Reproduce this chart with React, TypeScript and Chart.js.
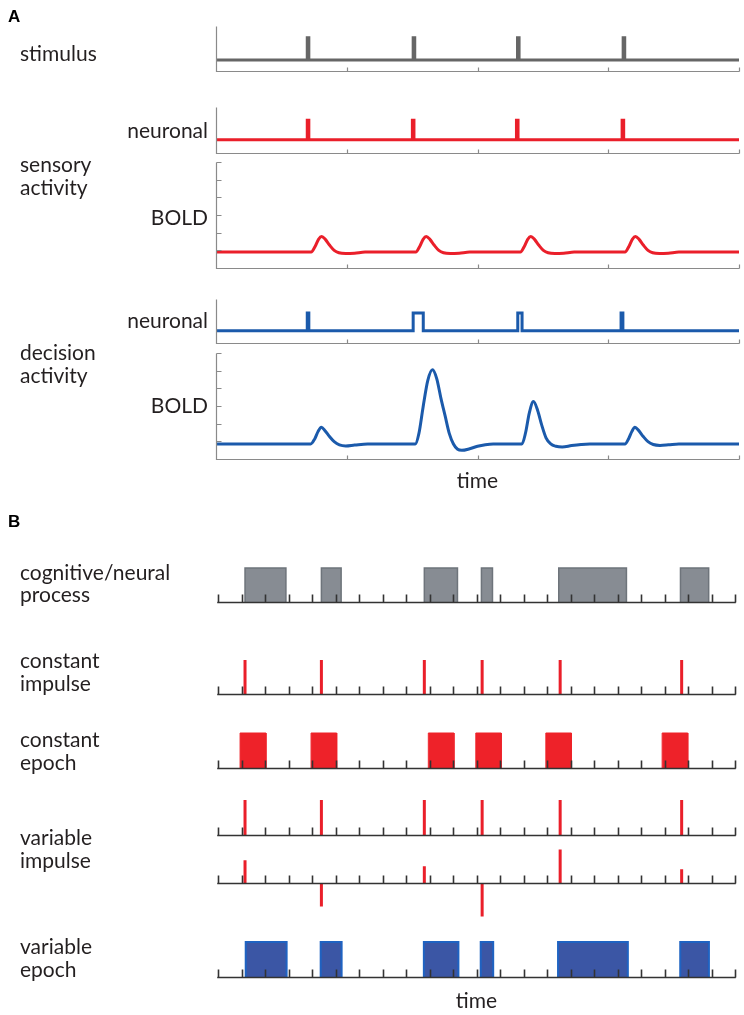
import React, { useEffect, useRef } from 'react';
import { Chart, registerables } from 'chart.js';

Chart.register(...registerables);

// ---------------- Panel A data (time axis 0..100) ----------------
const A_TIME_TICKS = [0, 25, 50, 75, 100];
const BOLD_Y_TICKS = [0, 1, 2, 3, 4, 5, 6];

const STIM_ONSETS = [17.45, 37.7, 57.65, 77.85];
const STIM_WIDTHS = [0.3, 0.3, 0.3, 0.3];
const STIM_BASE = 0.245;
const STIM_PEAK = 0.74;

const SENS_NEURO_ONSETS = [17.45, 37.55, 57.45, 77.65];
const SENS_NEURO_WIDTHS = [0.3, 0.3, 0.3, 0.3];
const SENS_NEURO_BASE = 0.29;
const SENS_NEURO_PEAK = 0.71;

const SENS_BOLD_X = [
  0, 18.2, 19.0, 19.6, 20.2, 20.9, 21.7, 22.6, 23.5, 24.8, 26.5, 28.5,
  38.2, 39.0, 39.6, 40.2, 40.9, 41.7, 42.6, 43.5, 44.8, 46.5, 48.5,
  58.2, 59.0, 59.6, 60.2, 60.9, 61.7, 62.6, 63.5, 64.8, 66.5, 68.5,
  78.2, 79.0, 79.6, 80.2, 80.9, 81.7, 82.6, 83.5, 84.8, 86.5, 88.5, 100,
];
const SENS_BOLD_Y = [
  0.91, 0.91, 1.25, 1.62, 1.78, 1.62, 1.3, 1.0, 0.86, 0.82, 0.84, 0.9,
  0.91, 1.25, 1.62, 1.78, 1.62, 1.3, 1.0, 0.86, 0.82, 0.84, 0.9,
  0.91, 1.25, 1.62, 1.78, 1.62, 1.3, 1.0, 0.86, 0.82, 0.84, 0.9,
  0.91, 1.25, 1.62, 1.78, 1.62, 1.3, 1.0, 0.86, 0.82, 0.84, 0.9, 0.91,
];

const DEC_NEURO_ONSETS = [17.45, 37.7, 57.7, 77.45];
const DEC_NEURO_WIDTHS = [0.3, 1.93, 0.82, 0.35];
const DEC_NEURO_BASE = 0.28;
const DEC_NEURO_PEAK = 0.68;

const DEC_BOLD_X = [
  0, 18.1, 18.9, 19.5, 20.15, 20.8, 21.7, 22.6, 23.6, 24.8, 26.5, 29.0,
  38.1, 38.8, 39.6, 40.5, 41.4, 42.2, 43.0, 43.8, 44.6, 45.4, 46.2, 47.0, 48.5, 50.0, 51.5, 53.0,
  58.5, 59.2, 59.9, 60.7, 61.5, 62.3, 63.1, 64.0, 65.0, 66.2, 68.0, 69.8, 71.5,
  78.2, 78.9, 79.5, 80.1, 80.8, 81.7, 82.6, 83.6, 84.9, 86.5, 88.5, 100,
];
const DEC_BOLD_Y = [
  0.85, 0.85, 1.15, 1.55, 1.8, 1.62, 1.27, 0.98, 0.8, 0.74, 0.79, 0.85,
  0.85, 1.45, 2.95, 4.45, 5.05, 4.55, 3.45, 2.45, 1.45, 0.85, 0.55, 0.49, 0.58, 0.72, 0.81, 0.85,
  0.85, 1.5, 2.6, 3.25, 2.75, 1.9, 1.2, 0.85, 0.72, 0.68, 0.76, 0.82, 0.85,
  0.85, 1.15, 1.55, 1.8, 1.62, 1.27, 0.98, 0.82, 0.77, 0.8, 0.85, 0.85,
];

// ---------------- Panel B data (time axis in tick units 0..22) ----------------
const B_TIME_TICKS = [0, 1, 2, 3, 4, 5, 6, 7, 8, 9, 10, 11, 12, 13, 14, 15, 16, 17, 18, 19, 20, 21, 22];

const PROCESS_START = [1.15, 4.4, 8.78, 11.21, 14.5, 19.68];
const PROCESS_END = [2.89, 5.24, 10.19, 11.68, 17.38, 20.88];

const CONST_IMPULSE_T = [1.15, 4.4, 8.78, 11.24, 14.56, 19.73];
const CONST_IMPULSE_H = [1, 1, 1, 1, 1, 1];

const CONST_EPOCH_START = [0.94, 3.96, 8.95, 10.97, 13.95, 18.9];
const CONST_EPOCH_END = [2.04, 5.05, 10.04, 12.05, 15.04, 19.99];

const VAR_IMPULSE_T = [1.15, 4.4, 8.78, 11.24, 14.56, 19.73];
const VAR_IMPULSE_H1 = [1, 1, 1, 1, 1, 1];
const VAR_IMPULSE_H2 = [0.65, -0.67, 0.48, -0.96, 0.96, 0.39];

const VAR_EPOCH_START = [1.18, 4.37, 8.76, 11.18, 14.47, 19.67];
const VAR_EPOCH_END = [2.92, 5.26, 10.23, 11.71, 17.44, 20.89];

// ---------------- styles ----------------
const GRAY_LINE = '#666666';
const RED = '#ea1f2a';
const BLUE = '#1b5aab';
const PROC_FILL = '#878c93';
const PROC_EDGE = '#6e747b';
const EPOCH_RED = '#ee2229';
const VEPOCH_FILL = '#3b56a5';
const VEPOCH_EDGE = '#1f63c2';
const TEXT = '#231f20';
const FONT = 'Lato, "Open Sans", sans-serif';
const PAD = 8;

type Pt = { x: number; y: number | null };

function stepSeries(onsets: number[], widths: number[], base: number, peak: number, xMax: number): Pt[] {
  const pts: Pt[] = [{ x: 0, y: base }];
  onsets.forEach((t, i) => {
    pts.push({ x: t, y: base }, { x: t, y: peak }, { x: t + widths[i], y: peak }, { x: t + widths[i], y: base });
  });
  pts.push({ x: xMax, y: base });
  return pts;
}

function xySeries(xs: number[], ys: number[]): Pt[] {
  return xs.map((x, i) => ({ x, y: ys[i] }));
}

function impulseSeries(ts: number[], hs: number[]): Pt[] {
  const pts: Pt[] = [];
  ts.forEach((t, i) => {
    pts.push({ x: t, y: 0 }, { x: t, y: hs[i] }, { x: t, y: null });
  });
  return pts;
}

function boxDatasets(starts: number[], ends: number[], fill: string, edge: string, edgeWidth: number) {
  return starts.map((s, i) => ({
    data: [
      { x: s, y: 0 },
      { x: s, y: 1 },
      { x: ends[i], y: 1 },
      { x: ends[i], y: 0 },
    ],
    borderColor: edge,
    borderWidth: edgeWidth,
    backgroundColor: fill,
    fill: 'origin',
    tension: 0,
    pointRadius: 0,
    clip: PAD,
  }));
}

function lineDataset(data: Pt[], color: string, width: number, smooth: boolean) {
  return {
    data,
    borderColor: color,
    borderWidth: width,
    fill: false,
    tension: 0,
    cubicInterpolationMode: smooth ? 'monotone' : 'default',
    pointRadius: 0,
    borderCapStyle: 'butt',
    borderJoinStyle: 'miter',
    spanGaps: false,
    clip: PAD,
  };
}

type PlotSpec = {
  key: string;
  left: number;
  top: number;
  width: number;
  height: number;
  xMin: number;
  xMax: number;
  yMin: number;
  yMax: number;
  style: 'A' | 'B';
  xTicks: number[];
  yTicks?: number[];
  datasets: any[];
};

function axesPlugin(p: PlotSpec) {
  return {
    id: 'figAxes',
    afterDatasetsDraw(chart: any) {
      const ctx = chart.ctx;
      const xs = chart.scales.x;
      const ys = chart.scales.y;
      ctx.save();
      if (p.style === 'A') {
        const x0 = Math.round(xs.getPixelForValue(p.xMin)) + 0.5;
        const x1 = Math.round(xs.getPixelForValue(p.xMax)) + 0.5;
        const y0 = Math.round(ys.getPixelForValue(p.yMin)) + 0.5;
        const y1 = Math.round(ys.getPixelForValue(p.yMax)) + 0.5;
        ctx.strokeStyle = '#8a8a8a';
        ctx.lineWidth = 1.2;
        ctx.beginPath();
        ctx.moveTo(x0, y1);
        ctx.lineTo(x0, y0);
        ctx.lineTo(x1, y0);
        for (const t of p.xTicks) {
          const x = Math.round(xs.getPixelForValue(t)) + 0.5;
          ctx.moveTo(x, y0);
          ctx.lineTo(x, y0 - 4);
        }
        for (const t of p.yTicks || []) {
          const y = Math.round(ys.getPixelForValue(t)) + 0.5;
          ctx.moveTo(x0, y);
          ctx.lineTo(x0 + 5, y);
        }
        ctx.stroke();
      } else {
        const x0 = xs.getPixelForValue(p.xMin);
        const x1 = xs.getPixelForValue(p.xMax);
        const yb = Math.round(ys.getPixelForValue(0)) + 0.5;
        ctx.strokeStyle = '#333333';
        ctx.lineWidth = 1.6;
        ctx.beginPath();
        ctx.moveTo(x0 - 0.8, yb);
        ctx.lineTo(x1 + 0.8, yb);
        for (const t of p.xTicks) {
          const x = Math.round(xs.getPixelForValue(t)) + 0.5;
          ctx.moveTo(x, yb);
          ctx.lineTo(x, yb - 8);
        }
        ctx.stroke();
      }
      ctx.restore();
    },
  };
}

function Plot({ spec }: { spec: PlotSpec }) {
  const ref = useRef<HTMLCanvasElement | null>(null);
  useEffect(() => {
    if (!ref.current) return;
    const chart = new Chart(ref.current, {
      type: 'line',
      data: { datasets: spec.datasets },
      options: {
        animation: false,
        responsive: false,
        maintainAspectRatio: false,
        devicePixelRatio: 1,
        layout: { padding: PAD },
        events: [],
        plugins: { legend: { display: false }, tooltip: { enabled: false } },
        scales: {
          x: { type: 'linear', min: spec.xMin, max: spec.xMax, display: false },
          y: { type: 'linear', min: spec.yMin, max: spec.yMax, display: false },
        },
      },
      plugins: [axesPlugin(spec)],
    } as any);
    return () => chart.destroy();
  }, [spec]);
  const w = spec.width + 2 * PAD;
  const h = spec.height + 2 * PAD;
  return (
    <canvas
      ref={ref}
      width={w}
      height={h}
      style={{ position: 'absolute', left: spec.left - PAD, top: spec.top - PAD, width: w, height: h }}
    />
  );
}

const A_LEFT = 216;
const A_WIDTH = 523;
const B_LEFT = 218;
const B_WIDTH = 517;

const PLOTS: PlotSpec[] = [
  {
    key: 'stim', left: A_LEFT, top: 26, width: A_WIDTH, height: 45,
    xMin: 0, xMax: 100, yMin: 0, yMax: 1, style: 'A', xTicks: A_TIME_TICKS,
    datasets: [lineDataset(stepSeries(STIM_ONSETS, STIM_WIDTHS, STIM_BASE, STIM_PEAK, 100), GRAY_LINE, 3, false)],
  },
  {
    key: 'sensNeuro', left: A_LEFT, top: 107, width: A_WIDTH, height: 46,
    xMin: 0, xMax: 100, yMin: 0, yMax: 1, style: 'A', xTicks: A_TIME_TICKS,
    datasets: [lineDataset(stepSeries(SENS_NEURO_ONSETS, SENS_NEURO_WIDTHS, SENS_NEURO_BASE, SENS_NEURO_PEAK, 100), RED, 3, false)],
  },
  {
    key: 'sensBold', left: A_LEFT, top: 162, width: A_WIDTH, height: 106,
    xMin: 0, xMax: 100, yMin: 0, yMax: 6, style: 'A', xTicks: A_TIME_TICKS, yTicks: BOLD_Y_TICKS,
    datasets: [lineDataset(xySeries(SENS_BOLD_X, SENS_BOLD_Y), RED, 3, true)],
  },
  {
    key: 'decNeuro', left: A_LEFT, top: 299, width: A_WIDTH, height: 44,
    xMin: 0, xMax: 100, yMin: 0, yMax: 1, style: 'A', xTicks: A_TIME_TICKS,
    datasets: [lineDataset(stepSeries(DEC_NEURO_ONSETS, DEC_NEURO_WIDTHS, DEC_NEURO_BASE, DEC_NEURO_PEAK, 100), BLUE, 3, false)],
  },
  {
    key: 'decBold', left: A_LEFT, top: 353, width: A_WIDTH, height: 106,
    xMin: 0, xMax: 100, yMin: 0, yMax: 6, style: 'A', xTicks: A_TIME_TICKS, yTicks: BOLD_Y_TICKS,
    datasets: [lineDataset(xySeries(DEC_BOLD_X, DEC_BOLD_Y), BLUE, 3, true)],
  },
  {
    key: 'process', left: B_LEFT, top: 567.5, width: B_WIDTH, height: 34,
    xMin: 0, xMax: 22, yMin: 0, yMax: 1, style: 'B', xTicks: B_TIME_TICKS,
    datasets: boxDatasets(PROCESS_START, PROCESS_END, PROC_FILL, PROC_EDGE, 1.5),
  },
  {
    key: 'constImp', left: B_LEFT, top: 660, width: B_WIDTH, height: 34,
    xMin: 0, xMax: 22, yMin: 0, yMax: 1, style: 'B', xTicks: B_TIME_TICKS,
    datasets: [lineDataset(impulseSeries(CONST_IMPULSE_T, CONST_IMPULSE_H), RED, 3, false)],
  },
  {
    key: 'constEpoch', left: B_LEFT, top: 733, width: B_WIDTH, height: 35,
    xMin: 0, xMax: 22, yMin: 0, yMax: 1, style: 'B', xTicks: B_TIME_TICKS,
    datasets: boxDatasets(CONST_EPOCH_START, CONST_EPOCH_END, EPOCH_RED, EPOCH_RED, 1),
  },
  {
    key: 'varImp1', left: B_LEFT, top: 800, width: B_WIDTH, height: 35,
    xMin: 0, xMax: 22, yMin: 0, yMax: 1, style: 'B', xTicks: B_TIME_TICKS,
    datasets: [lineDataset(impulseSeries(VAR_IMPULSE_T, VAR_IMPULSE_H1), RED, 3, false)],
  },
  {
    key: 'varImp2', left: B_LEFT, top: 848, width: B_WIDTH, height: 70,
    xMin: 0, xMax: 22, yMin: -1, yMax: 1, style: 'B', xTicks: B_TIME_TICKS,
    datasets: [lineDataset(impulseSeries(VAR_IMPULSE_T, VAR_IMPULSE_H2), RED, 3, false)],
  },
  {
    key: 'varEpoch', left: B_LEFT, top: 942, width: B_WIDTH, height: 35,
    xMin: 0, xMax: 22, yMin: 0, yMax: 1, style: 'B', xTicks: B_TIME_TICKS,
    datasets: boxDatasets(VAR_EPOCH_START, VAR_EPOCH_END, VEPOCH_FILL, VEPOCH_EDGE, 2),
  },
];

type Label = { text: string; x: number; y: number; anchor?: 'start' | 'end' | 'middle'; bold?: boolean };

const LABELS: Label[] = [
  { text: 'A', x: 8, y: 22, bold: true },
  { text: 'stimulus', x: 20, y: 61 },
  { text: 'neuronal', x: 208, y: 138, anchor: 'end' },
  { text: 'sensory', x: 20, y: 172 },
  { text: 'activity', x: 20, y: 195 },
  { text: 'BOLD', x: 208, y: 225, anchor: 'end' },
  { text: 'neuronal', x: 208, y: 328, anchor: 'end' },
  { text: 'decision', x: 20, y: 360 },
  { text: 'activity', x: 20, y: 383 },
  { text: 'BOLD', x: 208, y: 413, anchor: 'end' },
  { text: 'time', x: 477.5, y: 488, anchor: 'middle' },
  { text: 'B', x: 8, y: 527, bold: true },
  { text: 'cognitive/neural', x: 20, y: 580 },
  { text: 'process', x: 20, y: 602 },
  { text: 'constant', x: 20, y: 668 },
  { text: 'impulse', x: 20, y: 691 },
  { text: 'constant', x: 20, y: 747 },
  { text: 'epoch', x: 20, y: 770 },
  { text: 'variable', x: 20, y: 845 },
  { text: 'impulse', x: 20, y: 868 },
  { text: 'variable', x: 20, y: 954 },
  { text: 'epoch', x: 20, y: 977 },
  { text: 'time', x: 476.5, y: 1008, anchor: 'middle' },
];

export default function App() {
  return (
    <div style={{ position: 'absolute', left: 0, top: 0, width: 744, height: 1015, background: '#ffffff', overflow: 'hidden' }}>
      {PLOTS.map((p) => (
        <Plot key={p.key} spec={p} />
      ))}
      <svg width={744} height={1015} style={{ position: 'absolute', left: 0, top: 0, pointerEvents: 'none' }}>
        {LABELS.map((l, i) => (
          <text
            key={i}
            x={l.x}
            y={l.y}
            textAnchor={l.anchor || 'start'}
            fill={l.bold ? '#000000' : TEXT}
            style={{
              fontFamily: l.bold ? '"Liberation Sans", Arial, sans-serif' : FONT,
              fontWeight: l.bold ? 700 : 400,
              fontSize: l.bold ? 17 : 21,
            }}
          >
            {l.text}
          </text>
        ))}
      </svg>
    </div>
  );
}
